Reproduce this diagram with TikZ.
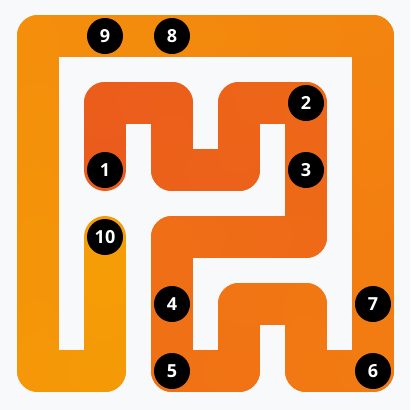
\documentclass[tikz,border=0pt]{standalone}
\usepackage{fontspec}
\setmainfont{Open Sans}
\definecolor{bg}{HTML}{F8F9FA}
\definecolor{cA}{HTML}{EB5B1C}
\definecolor{cB}{HTML}{F27A12}
\definecolor{cC}{HTML}{F59D06}
\tikzset{
  num/.style={circle, fill=black, text=white, minimum size=36pt, inner sep=0pt,
    font=\bfseries\fontsize{18}{18}\selectfont},
  band/.style={line width=42pt, line cap=round, line join=round}
}
\begin{document}
\begin{tikzpicture}[x=1pt,y=-1pt]
\useasboundingbox (0,0) rectangle (410,410);
\fill[bg] (0,0) rectangle (410,410);
\foreach [count=\k, remember=\x as \px (initially 1), remember=\y as \py (initially 2)] \x/\y in
  {1/2,1/1,2/1,2/2,3/2,3/1,4/1,4/2,4/3,3/3,2/3,2/4,2/5,3/5,3/4,4/4,4/5,5/5,5/4,5/3,5/2,5/1,5/0,4/0,3/0,2/0,1/0,0/0,0/1,0/2,0/3,0/4,0/5,1/5,1/4,1/3}
{
  \ifnum\k>1
    \foreach \s in {0,1,2,3}{
      \pgfmathsetmacro\fa{\s/4}
      \pgfmathsetmacro\fb{(\s+1)/4}
      \pgfmathsetmacro\t{(\k-2)+(\s+0.5)/4}
      \pgfmathtruncatemacro\pp{\t<17 ? round(100*(1-\t/17)) : round(100*(1-(\t-17)/18))}
      \pgfmathtruncatemacro\first{\t<17 ? 1 : 0}
      \ifnum\first=1
        \colorlet{segc}{cA!\pp!cB}
      \else
        \colorlet{segc}{cB!\pp!cC}
      \fi
      \draw[band, draw=segc]
        ({38+67*(\px+(\x-\px)*\fa)},{36+67*(\py+(\y-\py)*\fa)}) --
        ({38+67*(\px+(\x-\px)*\fb)},{36+67*(\py+(\y-\py)*\fb)});
    }
  \fi
}
\node[num] (n1) at (105,170) {1};
\node[num] (n2) at (306,103) {2};
\node[num] (n3) at (306,170) {3};
\node[num] (n4) at (172,304) {4};
\node[num] (n5) at (172,371) {5};
\node[num] (n6) at (373,371) {6};
\node[num] (n7) at (373,304) {7};
\node[num] (n8) at (172,36) {8};
\node[num] (n9) at (105,36) {9};
\node[num] (n10) at (105,237) {10};
\end{tikzpicture}
\end{document}
